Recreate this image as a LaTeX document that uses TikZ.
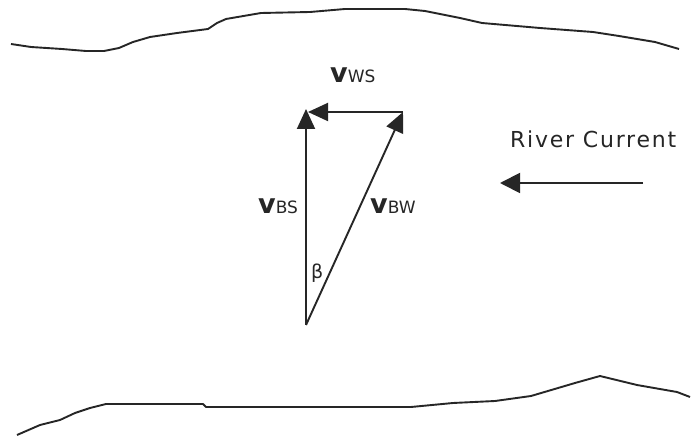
\documentclass[tikz,border=0pt]{standalone}
\usepackage{fontspec}
\setmainfont{DejaVu Sans}
\usetikzlibrary{arrows.meta}
\definecolor{ink}{HTML}{262626}
\tikzset{
  bank/.style={draw=ink, line width=1.9pt, line join=round},
  vec/.style={draw=ink, line width=1.9pt, -{Triangle[length=20pt,width=18pt]}},
  lbl/.style={inner sep=0pt, anchor=base west, text=ink},
}
\newcommand{\vlab}[1]{{\fontsize{27}{27}\selectfont\bfseries v}{\fontsize{17}{17}\selectfont #1}}
\begin{document}
\begin{tikzpicture}[x=1pt,y=-1pt]
\useasboundingbox (0,0) rectangle (691,438);
\fill[white] (0,0) rectangle (691,438);
% river banks
\draw[bank] (11,44) -- (31,47) -- (62,49) -- (86,51) -- (104,51) -- (119,48) -- (133,42) -- (150,37) -- (177,33) -- (208,29) -- (217,23) -- (226,19) -- (261,13) -- (310,12) -- (345,9) -- (405,9) -- (425,11) -- (460,18) -- (482,23) -- (540,28) -- (593,32) -- (619,36) -- (655,42) -- (679,49);
\draw[bank] (17,435) -- (40,425) -- (60,420) -- (75,413) -- (90,408) -- (106,404) -- (203,404) -- (206,407) -- (411,407) -- (453,403) -- (495,401) -- (531,396) -- (575,383) -- (600,376) -- (637,385) -- (677,392) -- (690,397);
% vectors
\coordinate (O) at (306,325);
\coordinate (A) at (306,109);
\coordinate (B) at (403,112);
\coordinate (Ah) at (308,112);
\draw[vec] (O) -- (A);
\draw[vec] (B) -- (Ah);
\draw[vec] (O) -- (B);
% labels
\node[lbl] (lws) at (330,83) {\vlab{WS}};
\node[lbl] (lbs) at (258,214) {\vlab{BS}};
\node[lbl] (lbw) at (370,214) {\vlab{BW}};
\node[lbl] (beta) at (311,279) {\fontsize{19}{19}\selectfont β};
% river current
\node[lbl] (rc) at (510,148) {\fontsize{22}{22}\selectfont\addfontfeatures{LetterSpace=8}River Current};
\coordinate (r1) at (643,183);
\coordinate (r2) at (500,183);
\draw[draw=ink, line width=1.9pt, -{Triangle[length=20pt,width=20pt]}] (r1) -- (r2);
\end{tikzpicture}
\end{document}
